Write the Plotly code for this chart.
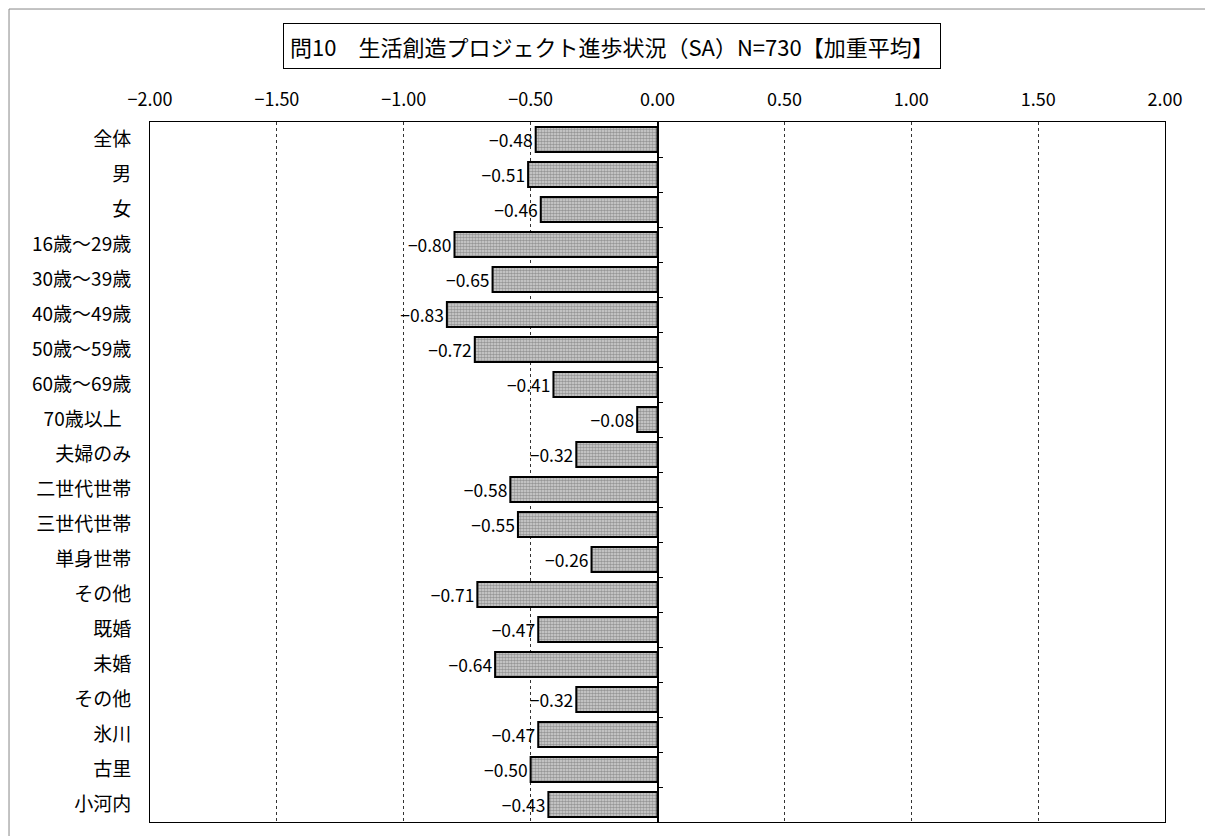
import plotly.graph_objects as go

categories = ["全体", "男", "女", "16歳～29歳", "30歳～39歳", "40歳～49歳", "50歳～59歳",
              "60歳～69歳", "70歳以上\u2002", "夫婦のみ", "二世代世帯", "三世代世帯", "単身世帯",
              "その他", "既婚", "未婚", "その他", "氷川", "古里", "小河内"]
values = [-0.48, -0.51, -0.46, -0.80, -0.65, -0.83, -0.72, -0.41, -0.08, -0.32,
          -0.58, -0.55, -0.26, -0.71, -0.47, -0.64, -0.32, -0.47, -0.50, -0.43]
x_ticks = [-2.0, -1.5, -1.0, -0.5, 0.0, 0.5, 1.0, 1.5, 2.0]
title_text = "問10　生活創造プロジェクト進歩状況（SA）N=730【加重平均】"

n = len(categories)
pos = list(range(n))
FONT = "Noto Sans CJK JP"

fig = go.Figure()
fig.add_trace(go.Bar(
    x=values, y=pos, orientation="h", width=0.72,
    marker=dict(color="#a8a8a8", line=dict(color="black", width=2),
                pattern=dict(shape=".", size=3, solidity=0.6,
                             fgcolor="#555555", bgcolor="#d6d6d6")),
    text=[f"\u2212{abs(v):.2f}" for v in values],
    textposition="outside", textfont=dict(size=18, color="black", family=FONT),
    cliponaxis=False, showlegend=False, hoverinfo="skip",
))
# invisible trace to carry the zero axis with boundary ticks
fig.add_trace(go.Scatter(x=[0] * n, y=pos, mode="none", yaxis="y2",
                         showlegend=False, hoverinfo="skip"))

fig.update_layout(
    width=1213, height=836,
    margin=dict(l=142, r=56, t=114, b=22),
    paper_bgcolor="white", plot_bgcolor="white",
    font=dict(family=FONT, color="black"),
    xaxis=dict(range=[-2, 2], side="top", tickvals=x_ticks, tickformat=".2f",
               showgrid=True, griddash="dot", gridcolor="#333", gridwidth=1,
               zeroline=False, showline=True, mirror=True, linecolor="black",
               linewidth=1, ticks="", ticklabelstandoff=8,
               tickfont=dict(size=18, family=FONT)),
    yaxis=dict(range=[n - 0.5, -0.5], tickvals=pos, ticktext=categories,
               showgrid=False, zeroline=False, showline=True, mirror=True,
               linecolor="black", linewidth=1, ticks="", ticklabelstandoff=14,
               tickfont=dict(size=19, family=FONT)),
    yaxis2=dict(range=[n - 0.5, -0.5], overlaying="y", anchor="free", position=0.5,
                side="right", showticklabels=False, showgrid=False, zeroline=False,
                showline=True, linecolor="black", linewidth=1.5,
                tickvals=[i + 0.5 for i in range(n - 1)], ticks="outside",
                ticklen=5, tickcolor="black"),
    annotations=[dict(text=title_text, xref="paper", yref="paper", x=0.455, y=1.1086,
                      yanchor="middle", showarrow=False,
                      font=dict(size=22, family=FONT, color="black"),
                      bordercolor="black", borderwidth=1, borderpad=6, bgcolor="white")],
    shapes=[dict(type="rect", xref="paper", yref="paper", x0=-0.1389, x1=1.06,
                 y0=-0.03, y1=1.1614, line=dict(color="#888", width=1), layer="below")],
)

fig.write_html("out.html")
